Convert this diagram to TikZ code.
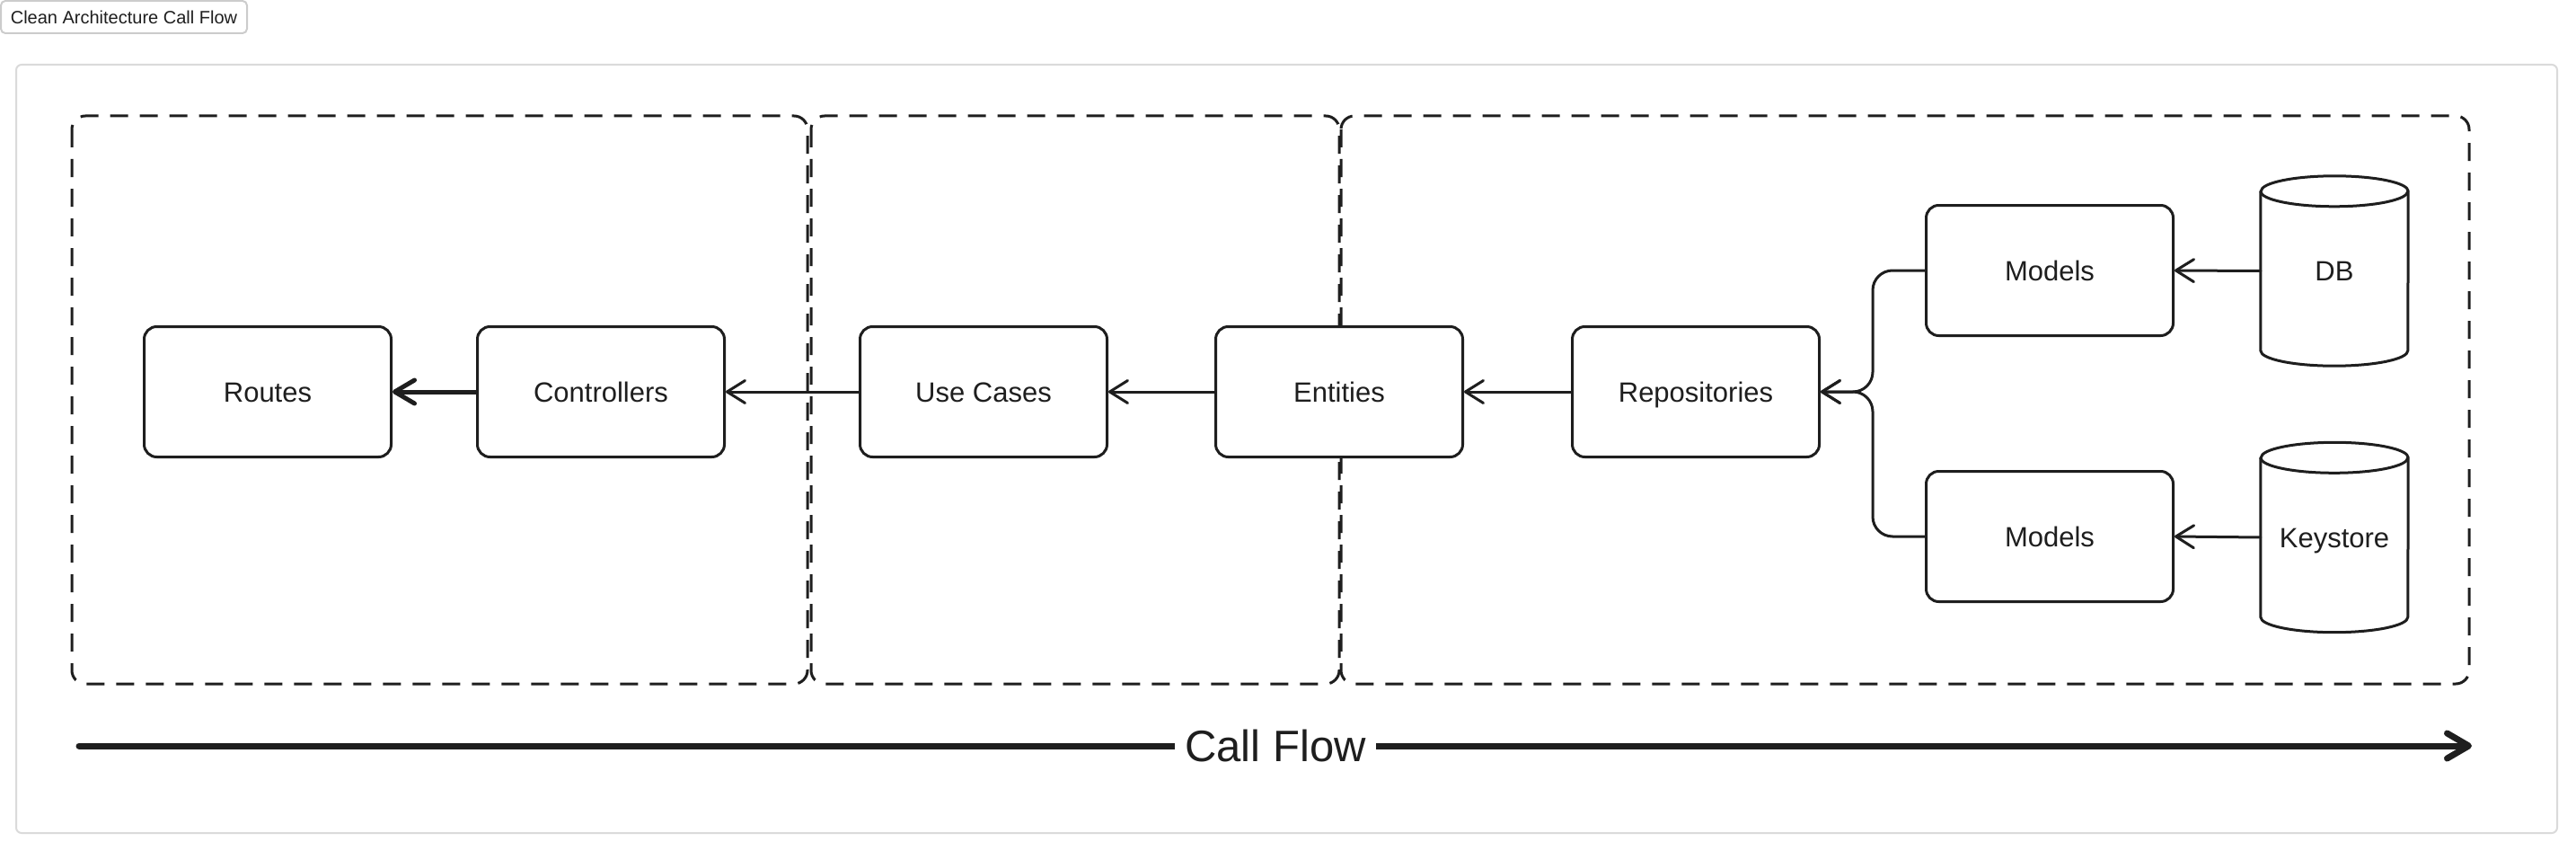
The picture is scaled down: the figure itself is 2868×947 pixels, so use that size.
\documentclass[tikz,border=0pt]{standalone}
\usepackage{fontspec}
\setmainfont{Liberation Sans}
\usetikzlibrary{arrows.meta,calc}
\definecolor{ink}{HTML}{1E1E1E}
\definecolor{panelgray}{HTML}{DADADA}
\definecolor{btngray}{HTML}{CCCCCC}
\begin{document}
\begin{tikzpicture}[x=1pt,y=-1pt,
  layerbox/.style={draw=ink, line width=3pt, dash pattern=on 20pt off 13pt, rounded corners=15pt},
  stepbox/.style={draw=ink, fill=white, line width=3pt, rounded corners=14pt, minimum width=275pt, minimum height=145pt, inner sep=0pt, text=ink, text height=22pt, text depth=0pt, font=\fontsize{31}{36}\selectfont},
  storebox/.style={minimum width=164pt, minimum height=211pt, inner sep=0pt, text=ink, text height=22pt, text depth=0pt, font=\fontsize{31}{36}\selectfont},
  cylline/.style={draw=ink, line width=3pt, line join=round},
  conn/.style={draw=ink, line width=3pt, line cap=round, line join=round, -{Straight Barb[length=20pt,width=25pt,round]}},
  thickconn/.style={draw=ink, line width=5pt, line cap=round, -{Straight Barb[length=22pt,width=26pt,round]}},
  flow/.style={draw=ink, line width=7pt, line cap=round, -{Straight Barb[length=24pt,width=28pt,round]}},
]
\useasboundingbox (0,0) rectangle (2868,947);

% title button
\node[draw=btngray, line width=2pt, rounded corners=5pt, minimum width=274pt, minimum height=36pt, inner sep=0pt, text=ink, font=\fontsize{20}{24}\selectfont] (btn) at (138,19) {Clean Architecture Call Flow};

% panel
\draw[panelgray, line width=2pt, rounded corners=6pt] (18,72) rectangle (2847,927);

% layers
\draw[layerbox] (80,129) rectangle (899,761);
\draw[layerbox] (903,129) rectangle (1491,761);
\draw[layerbox] (1493,129) rectangle (2749,761);

% steps
\node[stepbox] (routes) at (298,436) {Routes};
\node[stepbox] (ctrl) at (669,436) {Controllers};
\node[stepbox] (uc) at (1095,436) {Use Cases};
\node[stepbox] (ent) at (1491,436) {Entities};
\node[stepbox] (repo) at (1888,436) {Repositories};
\node[stepbox] (m1) at (2282,301) {Models};
\node[stepbox] (m2) at (2282,597) {Models};

% stores
\node[storebox] (db) at (2599,301.5) {DB};
\node[storebox] (ks) at (2599,598) {Keystore};
\foreach \c in {db,ks}{
  \draw[cylline] ([yshift=-17pt]\c.north west) -- ([yshift=17pt]\c.south west)
     arc[start angle=180,end angle=360,x radius=82pt,y radius=17pt]
     -- ([yshift=-17pt]\c.north east)
     arc[start angle=0,end angle=180,x radius=82pt,y radius=17pt] -- cycle;
  \draw[cylline] ([yshift=-17pt]\c.north west) arc[start angle=180,end angle=360,x radius=82pt,y radius=17pt];
}

% connectors
\draw[thickconn] (ctrl.west) -- (routes.east);
\draw[conn] (uc.west) -- (ctrl.east);
\draw[conn] (ent.west) -- (uc.east);
\draw[conn] (repo.west) -- (ent.east);
\draw[conn, rounded corners=22pt] (m1.west) -| ($(m1.west)!0.5!(repo.east)$) |- (repo.east);
\draw[conn, rounded corners=22pt] (m2.west) -| ($(m2.west)!0.5!(repo.east)$) |- (repo.east);
\draw[conn] (db.west) -- (m1.east);
\draw[conn] (ks.west) -- (m2.east);

% call flow
\coordinate (cfs) at (88,830);
\coordinate (cfe) at (2752,830);
\draw[flow] (cfs) -- node[fill=white, inner xsep=11pt, inner ysep=2pt, text=ink, text height=35pt, text depth=0pt, font=\fontsize{49}{58}\selectfont] (cflabel) {Call Flow} (cfe);
\end{tikzpicture}
\end{document}
